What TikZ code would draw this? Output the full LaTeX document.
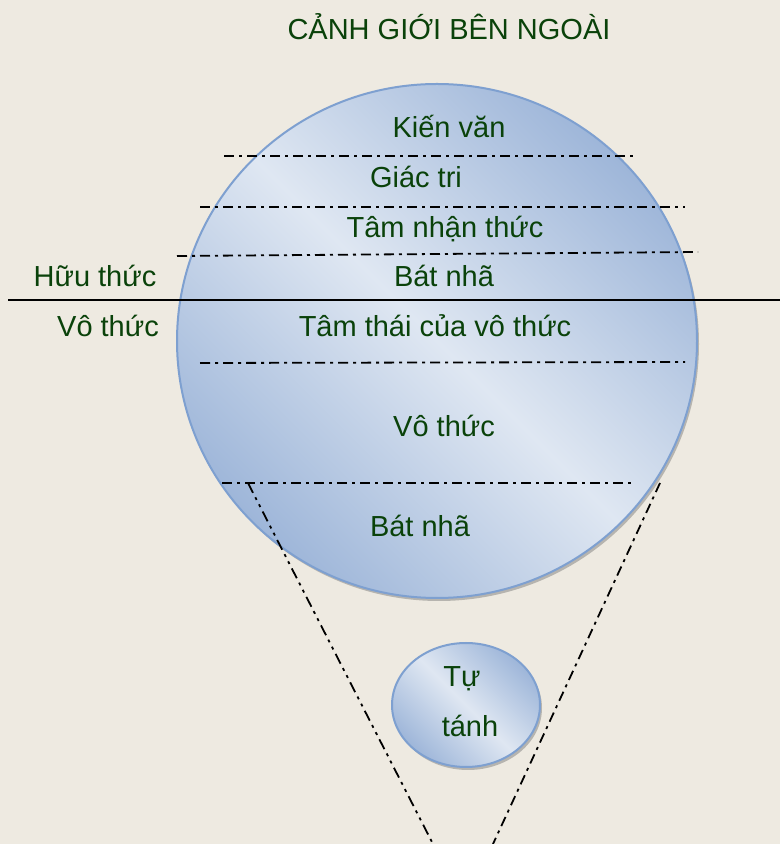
\documentclass[tikz,border=0pt]{standalone}
\usepackage{fontspec}
\setmainfont{Liberation Sans}
\definecolor{bg}{RGB}{238,234,225}
\definecolor{txt}{RGB}{10,66,10}
\definecolor{bdark}{RGB}{158,182,217}
\definecolor{blight}{RGB}{223,231,242}
\definecolor{bedge}{RGB}{126,160,208}
\tikzset{
  lbl/.style={text=txt, font=\fontsize{29}{34}\selectfont, anchor=base, inner sep=0pt},
  bubble/.style={top color=bdark, bottom color=bdark, middle color=blight, shading angle=-45, draw=bedge, line width=2pt},
  shadowc/.style={fill=black!55, opacity=0.45},
  dashdot/.style={line width=1.8pt, dash pattern=on 10pt off 5pt on 3pt off 5pt},
  dashdotdot/.style={line width=1.8pt, dash pattern=on 11pt off 5pt on 3pt off 5pt on 3pt off 5pt},
  solidline/.style={line width=1.6pt}
}
\begin{document}
\begin{tikzpicture}[x=1pt,y=1pt]
\useasboundingbox (0,0) rectangle (780,844);
\fill[bg] (0,0) rectangle (780,844);

% big circle
\fill[shadowc] (439,500) ellipse [x radius=260, y radius=257];
\path[bubble] (437,503) ellipse [x radius=260, y radius=257];

% small circle
\fill[shadowc] (468,136) ellipse [x radius=74, y radius=62];
\path[bubble] (466,139) ellipse [x radius=74, y radius=62];

% coordinates
\coordinate (l1a) at (224,688); \coordinate (l1b) at (633,688);
\coordinate (l2a) at (200,637); \coordinate (l2b) at (685,637);
\coordinate (l3a) at (177,588); \coordinate (l3b) at (698,592);
\coordinate (sla) at (8,544);   \coordinate (slb) at (780,544);
\coordinate (l5a) at (200,481); \coordinate (l5b) at (685,482);
\coordinate (l6a) at (222,361); \coordinate (l6b) at (633,361);
\coordinate (ka) at (248,361);  \coordinate (kb) at (433,0);
\coordinate (ra) at (660,361);  \coordinate (rb) at (493,0);

\draw[dashdot] (l1a) -- (l1b);
\draw[dashdot] (l2a) -- (l2b);
\draw[dashdot] (l3a) -- (l3b);
\draw[solidline] (sla) -- (slb);
\draw[dashdot] (l5a) -- (l5b);
\draw[dashdot] (l6a) -- (l6b);
\draw[dashdotdot] (ka) -- (kb);
\draw[dashdot] (ra) -- (rb);

% texts
\node[lbl] (title) at (449,804) {CẢNH GIỚI BÊN NGOÀI};
\node[lbl] (kv) at (449,706) {Kiến văn};
\node[lbl] (gt) at (416,656) {Giác tri};
\node[lbl] (tnt) at (445,606) {Tâm nhận thức};
\node[lbl] (bn1) at (444,557) {Bát nhã};
\node[lbl] (ht) at (95,557) {Hữu thức};
\node[lbl] (vtl) at (108,507) {Vô thức};
\node[lbl] (ttvt) at (435,507) {Tâm thái của vô thức};
\node[lbl] (vtc) at (444,407) {Vô thức};
\node[lbl] (bn2) at (420,307) {Bát nhã};
\node[lbl] (tu) at (462,157) {Tự};
\node[lbl] (tanh) at (470,107) {tánh};
\end{tikzpicture}
\end{document}
